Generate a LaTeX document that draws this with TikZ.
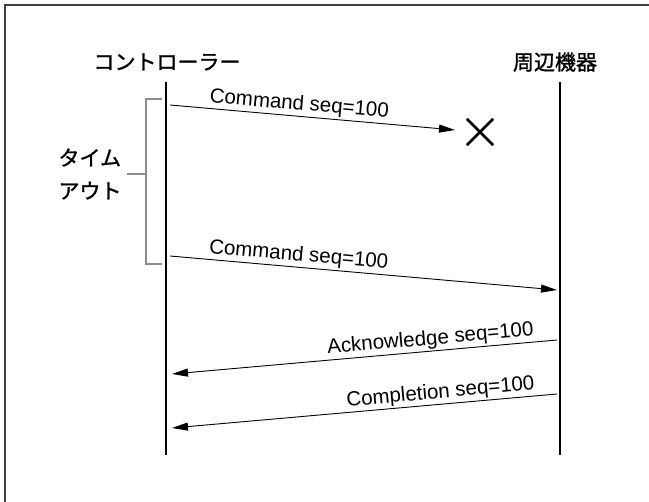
\documentclass[tikz,border=0pt]{standalone}
\usepackage{fontspec}
\setmainfont{Liberation Sans}
\newfontfamily\jp[FakeBold=1.2]{Noto Sans CJK JP}
\usetikzlibrary{arrows.meta}
\begin{document}
\begin{tikzpicture}[x=1pt,y=-1pt,
  lifeline/.style={line width=2.6pt,black},
  msg/.style={line width=0.9pt,-{Triangle[length=16pt,width=8pt]}},
  lbl/.style={sloped,above,font=\fontsize{20.5}{24}\selectfont,inner sep=1.5pt},
  title/.style={font=\jp\fontsize{21}{25}\selectfont,inner sep=0pt},
  frameline/.style={line width=1.5pt,draw=black!75},
  bracket/.style={line width=2.5pt,draw=black!45},
  crossmark/.style={line width=2.5pt,black}]
\useasboundingbox (0,0) rectangle (649,502);
\fill[white] (0,0) rectangle (649,502);
\draw[frameline] (5,502) -- (5,5) -- (649,5);
% titles
\node[title] (ctrl) at (167,62) {コントローラー};
\node[title] (dev) at (555,62) {周辺機器};
% lifelines
\coordinate (ctop) at (166,82);
\coordinate (cbot) at (166,455);
\coordinate (dtop) at (560,82);
\coordinate (dbot) at (560,455);
\draw[lifeline] (ctop) -- (cbot);
\draw[lifeline] (dtop) -- (dbot);
% timeout bracket
\coordinate (bt) at (162,99);
\coordinate (bb) at (162,264);
\coordinate (bm) at (146,174);
\node[font=\jp\fontsize{21}{33}\selectfont,align=left,inner sep=0pt] (tmo) at (90,174) {タイム\\アウト};
\draw[bracket] (bt) -- (146,99) -- (146,264) -- (bb);
\draw[bracket] (bm) -- (127,174);
% messages
\coordinate (m1s) at (170,105);
\coordinate (m1e) at (455,130);
\draw[msg] (m1s) -- node[lbl,pos=0.45]{Command seq=100} (m1e);
\node[inner sep=0pt,minimum size=26pt] (lost) at (480,132) {};
\draw[crossmark] (lost.north west) -- (lost.south east);
\draw[crossmark] (lost.south west) -- (lost.north east);
\coordinate (m2s) at (170,256);
\coordinate (m2e) at (557,290);
\draw[msg] (m2s) -- node[lbl,pos=0.33]{Command seq=100} (m2e);
\coordinate (m3s) at (557,340);
\coordinate (m3e) at (172,374);
\draw[msg] (m3s) -- node[lbl,pos=0.326]{Acknowledge seq=100} (m3e);
\coordinate (m4s) at (557,394);
\coordinate (m4e) at (172,428);
\draw[msg] (m4s) -- node[lbl,pos=0.30]{Completion seq=100} (m4e);
\end{tikzpicture}
\end{document}
